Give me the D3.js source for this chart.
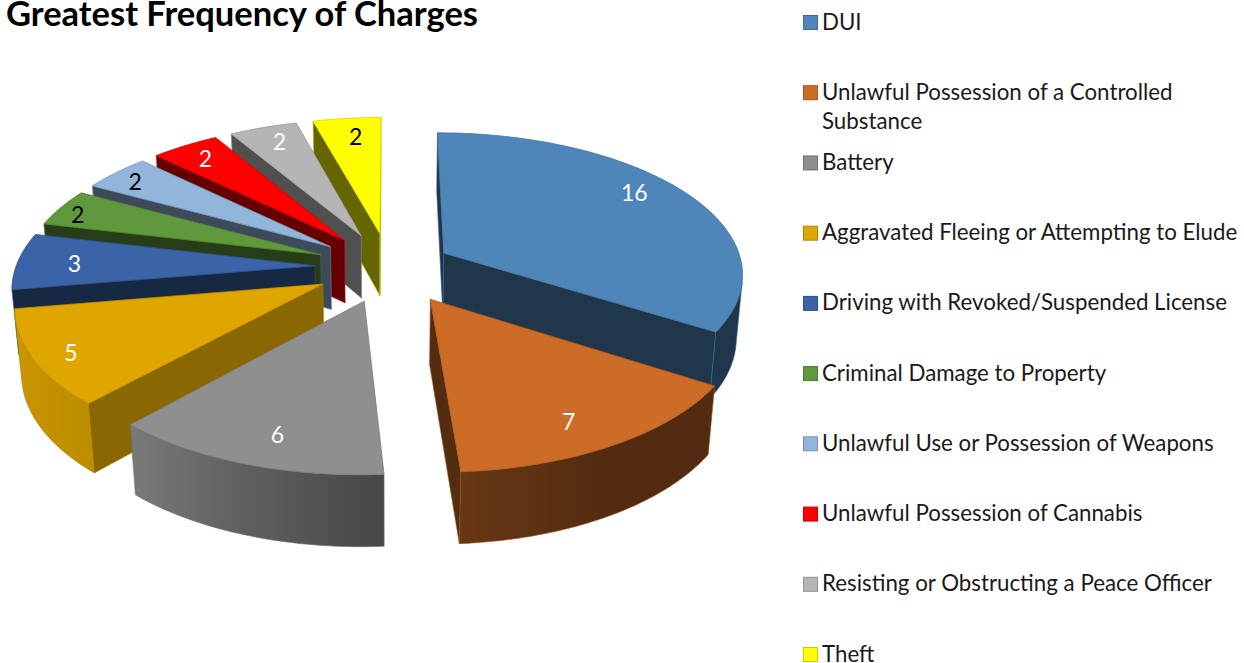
<!DOCTYPE html>
<html><head><meta charset="utf-8">
<script src="https://cdn.jsdelivr.net/npm/d3@7/dist/d3.min.js"></script>
<style>html,body{margin:0;padding:0;background:#fff}svg{display:block}text{font-family:Lato,"Open Sans",sans-serif}</style>
</head><body><svg id="c" width="1244" height="663"></svg>
<script>
const title = "Greatest Frequency of Charges";
const categories = ["DUI","Unlawful Possession of a Controlled Substance","Battery","Aggravated Fleeing or Attempting to Elude","Driving with Revoked/Suspended License","Criminal Damage to Property","Unlawful Use or Possession of Weapons","Unlawful Possession of Cannabis","Resisting or Obstructing a Peace Officer","Theft"];
const values = [16,7,6,5,3,2,2,2,2,2];
const colors = ["#4f86b9","#cd6c27","#8f8f8f","#dfa600","#3a63a8","#60993d","#92b5dc","#ff0000","#b5b5b5","#ffff00"];
const labelColors = ["#fff","#fff","#fff","#fff","#fff","#000","#000","#fff","#fff","#000"];
const explode = [.21,.26,.25,.25,.25,.25,.25,.25,.25,.25];
const wallShade = [.4,.41,.4,.62,.4,.4,.41,.4,.44,.4];
const labelNudge = [[-13,-8],[-13,3],[12,1],[-11,7],[9,2],[-23,0],[-13,-2],[-3,-1],[2,-1],[4,2]];

// camera
const cx=389.5, cy=267, R=299, Rq=140, k=.135, H=65, m=.018;
function project(X,Y,Z){ const w=1-k*Y+m*Z; return [cx+R*X/w, cy+(Rq*Y+H*Z)/w]; }
const dir=a=>[Math.sin(a),-Math.cos(a)];

const svg=d3.select("#c");
const defs=svg.append("defs");
const arcs=d3.pie().sort(null).value(d=>d)(values);
const line=d3.line();
const shade=d3.scaleLinear().domain([0,150,180,222,260,360].map(d=>d*Math.PI/180)).range([.4,.4,.52,.85,.92,.4]);
const tint=(c,f)=>{const r=d3.rgb(c);return d3.rgb(r.r*f,r.g*f,r.b*f).formatHex();};
function shoelace(p){let s=0;p.forEach((q,i)=>{const n=p[(i+1)%p.length];s+=q[0]*n[1]-n[0]*q[1];});return s;}

arcs.forEach(a=>{
  a.mid=(a.startAngle+a.endAngle)/2;
  const d=dir(a.mid), e=explode[a.index];
  a.ax=d[0]*e; a.ay=d[1]*e;
});
const left=arcs.filter(a=>a.mid>Math.PI).sort((p,q)=>q.mid-p.mid);
const right=arcs.filter(a=>a.mid<=Math.PI).sort((p,q)=>p.mid-q.mid);
const order=left.concat(right);

order.forEach(a=>{
  const col=colors[a.index];
  const g=svg.append("g");
  const pt=(th,Z)=>{const d=dir(th);return project(a.ax+d[0],a.ay+d[1],Z);};
  const apex=Z=>project(a.ax,a.ay,Z);
  const steps=d3.range(a.startAngle,a.endAngle,Math.PI/180).concat([a.endAngle]);
  const edge=tint(col,.75);
  // radial walls
  [[pt(a.startAngle,0),apex(0),apex(1),pt(a.startAngle,1)],
   [apex(0),pt(a.endAngle,0),pt(a.endAngle,1),apex(1)]].forEach(p=>{
    if(shoelace(p)>0) g.append("path").attr("d",line(p)+"Z").attr("fill",tint(col,wallShade[a.index]))
      .attr("stroke",edge).attr("stroke-width",.6);
  });
  // outer wall, one path with a horizontal gradient
  const strips=d3.pairs(steps).filter(([t1,t2])=>shoelace([pt(t2,0),pt(t1,0),pt(t1,1),pt(t2,1)])>0);
  if(strips.length){
    const ts=[strips[0][0]].concat(strips.map(s=>s[1]));
    const xs=strips.map(([t1,t2])=>pt((t1+t2)/2,.5)[0]);
    const x0=d3.min(xs), x1=d3.max(xs);
    const id="wall"+a.index;
    const lg=defs.append("linearGradient").attr("id",id).attr("gradientUnits","userSpaceOnUse")
      .attr("x1",x0).attr("x2",x1+.01).attr("y1",0).attr("y2",0);
    strips.map(([t1,t2],i)=>({x:xs[i],c:tint(col,shade((t1+t2)/2))})).sort((p,q)=>p.x-q.x).forEach(s=>{
      lg.append("stop").attr("offset",(s.x-x0)/(x1-x0+.01)).attr("stop-color",s.c);
    });
    const poly=ts.map(t=>pt(t,0)).concat(ts.slice().reverse().map(t=>pt(t,1)));
    g.append("path").attr("d",line(poly)+"Z").attr("fill",`url(#${id})`).attr("stroke",edge).attr("stroke-width",.6);
  }
  const top=[apex(0)].concat(steps.map(t=>pt(t,0)));
  g.append("path").attr("d",line(top)+"Z").attr("fill",col).attr("stroke",tint(col,.85)).attr("stroke-width",.8);
});

// value labels
order.forEach(a=>{
  const d=dir(a.mid), r=.84;
  const p=project(a.ax+d[0]*r,a.ay+d[1]*r,0), n=labelNudge[a.index];
  svg.append("text").attr("x",p[0]+n[0]).attr("y",p[1]+n[1]+8).attr("text-anchor","middle")
    .attr("font-size",23).attr("fill",labelColors[a.index]).text(values[a.index]);
});

// title
svg.append("text").attr("x",6).attr("y",26).attr("font-size",34.5).attr("font-weight",700).attr("fill","#000").text(title);

// legend
const ly=d3.scalePoint().domain(categories).range([22,654]);
const wrap={"Unlawful Possession of a Controlled Substance":["Unlawful Possession of a Controlled","Substance"]};
categories.forEach((c,i)=>{
  const y=ly(c);
  svg.append("rect").attr("x",803.5).attr("y",y-6.5).attr("width",14).attr("height",14)
    .attr("fill",colors[i]).attr("stroke",tint(colors[i],.8)).attr("stroke-width",1);
  (wrap[c]||[c]).forEach((t,j)=>{
    svg.append("text").attr("x",822).attr("y",y+7.5+j*29).attr("font-size",22.3).attr("fill","#1a1a1a").text(t);
  });
});
</script></body></html>
